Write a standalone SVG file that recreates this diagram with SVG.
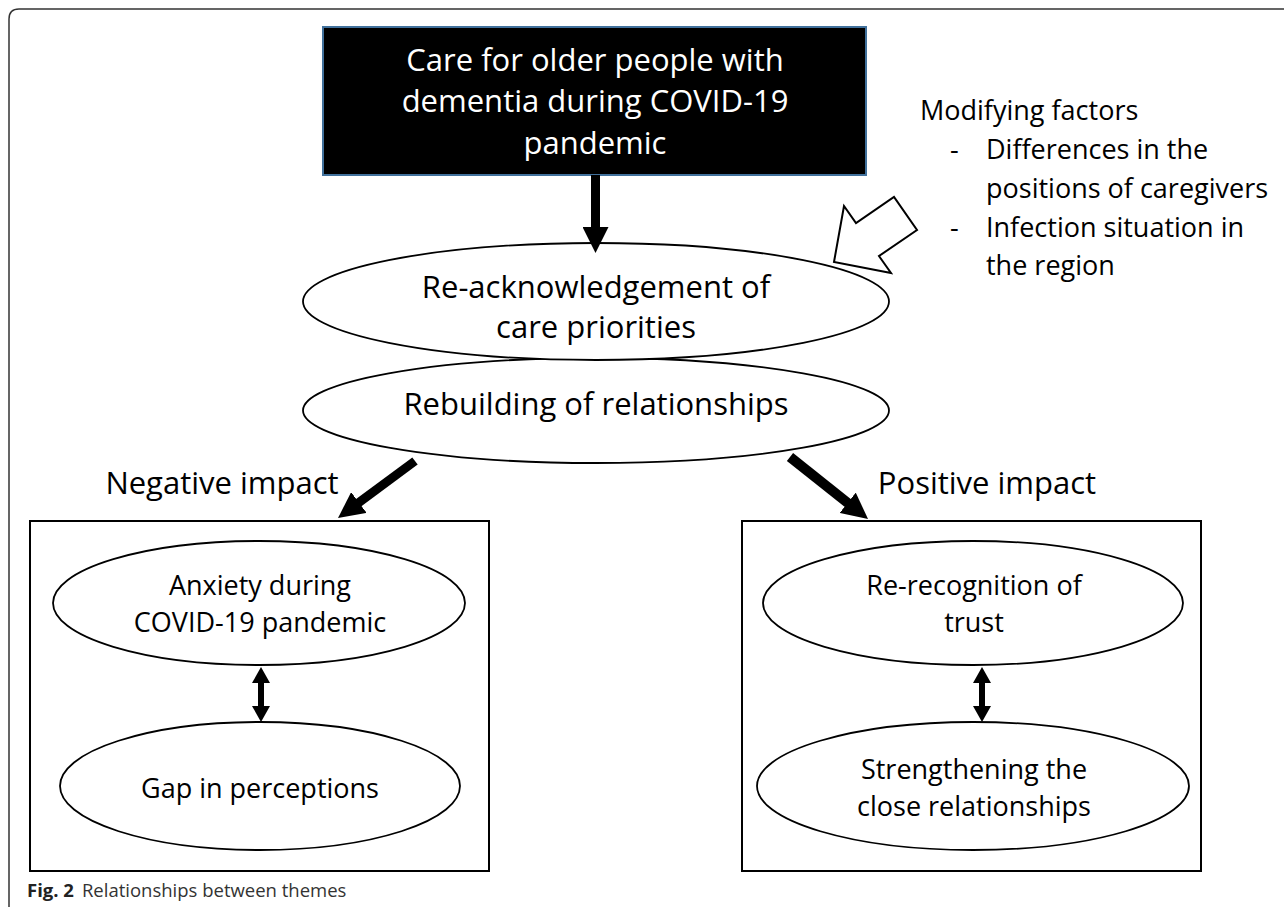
<svg xmlns="http://www.w3.org/2000/svg" width="1284" height="910" viewBox="0 0 1284 910">
<defs>
<style>
.t{font-family:"Open Sans","Liberation Sans",sans-serif;fill:#000;text-anchor:middle}
.s{text-anchor:start}
.w{fill:#fff}
.el{fill:#fff;stroke:#000;stroke-width:1.8}
.bx{fill:none;stroke:#000;stroke-width:2}
.sh{stroke:#000;fill:none}
</style>
<marker id="ah" markerUnits="userSpaceOnUse" markerWidth="26" markerHeight="26" viewBox="0 0 26 26" refX="4" refY="13" orient="auto">
<path d="M0,0 L26,13 L0,26 z" fill="#000"/>
</marker>
<marker id="dh" markerUnits="userSpaceOnUse" markerWidth="16" markerHeight="18" viewBox="0 0 16 18" refX="3" refY="9" orient="auto-start-reverse">
<path d="M0,0 L16,9 L0,18 z" fill="#000"/>
</marker>
</defs>
<rect width="1284" height="910" fill="#fff"/>
<path d="M9,907 V19 Q9,9 19,9 H1284" fill="none" stroke="#333" stroke-width="1.5"/>

<g id="care-box">
<rect x="323" y="27" width="543" height="148" fill="#000" stroke="#41719c" stroke-width="2"/>
<text class="t w" x="595" y="71" font-size="31">Care for older people with</text>
<text class="t w" x="595" y="112" font-size="31">dementia during COVID-19</text>
<text class="t w" x="595" y="154" font-size="31">pandemic</text>
</g>

<g id="modifying-factors">
<text class="t s" x="920" y="120" font-size="27">Modifying factors</text>
<text class="t s" x="950" y="159" font-size="27">-</text>
<text class="t s" x="986" y="159" font-size="27">Differences in the</text>
<text class="t s" x="986" y="198" font-size="27">positions of caregivers</text>
<text class="t s" x="950" y="237" font-size="27">-</text>
<text class="t s" x="986" y="237" font-size="27">Infection situation in</text>
<text class="t s" x="986" y="275" font-size="27">the region</text>
</g>

<g id="rebuilding">
<ellipse class="el" cx="596" cy="410.5" rx="293" ry="52.5"/>
<text class="t" x="596" y="415" font-size="31">Rebuilding of relationships</text>
</g>

<g id="re-acknowledgement">
<ellipse class="el" cx="596" cy="301.5" rx="293" ry="58.5"/>
<text class="t" x="596" y="298" font-size="31">Re-acknowledgement of</text>
<text class="t" x="596" y="338" font-size="31">care priorities</text>
</g>

<g id="modifier-arrow">
<polygon points="834,262 844,206 856,223 894,197 917,230 879,256 891,273" fill="#fff" stroke="#000" stroke-width="2" stroke-linejoin="miter"/>
</g>

<g id="negative-label">
<text class="t" x="222" y="494" font-size="31">Negative impact</text>
</g>
<g id="positive-label">
<text class="t" x="987" y="494" font-size="31">Positive impact</text>
</g>

<g id="negative-box">
<rect class="bx" x="30" y="521" width="459" height="350"/>
</g>
<g id="anxiety">
<ellipse class="el" cx="259" cy="603" rx="206" ry="62"/>
<text class="t" x="260" y="595" font-size="27">Anxiety during</text>
<text class="t" x="260" y="632" font-size="27">COVID-19 pandemic</text>
</g>
<g id="gap">
<ellipse class="el" cx="260" cy="786" rx="200" ry="64"/>
<text class="t" x="260" y="798" font-size="27">Gap in perceptions</text>
</g>

<g id="positive-box">
<rect class="bx" x="742" y="521" width="459" height="350"/>
</g>
<g id="trust">
<ellipse class="el" cx="973" cy="603" rx="210" ry="62"/>
<text class="t" x="974" y="595" font-size="27">Re-recognition of</text>
<text class="t" x="974" y="632" font-size="27">trust</text>
</g>
<g id="strengthening">
<ellipse class="el" cx="973" cy="786" rx="216" ry="64"/>
<text class="t" x="974" y="779" font-size="27">Strengthening the</text>
<text class="t" x="974" y="816" font-size="27">close relationships</text>
</g>

<g id="connectors">
<line class="sh" x1="595.5" y1="175" x2="595.5" y2="231" stroke-width="9" marker-end="url(#ah)"/>
<line class="sh" x1="415" y1="461" x2="355.7" y2="504.9" stroke-width="9" marker-end="url(#ah)"/>
<line class="sh" x1="790" y1="457" x2="850.8" y2="505.3" stroke-width="10" marker-end="url(#ah)"/>
<line class="sh" x1="261" y1="680" x2="261" y2="709" stroke-width="6" marker-start="url(#dh)" marker-end="url(#dh)"/>
<line class="sh" x1="982" y1="680" x2="982" y2="709" stroke-width="6" marker-start="url(#dh)" marker-end="url(#dh)"/>
</g>

<g id="caption">
<text x="27" y="897" font-family="'Open Sans','Liberation Sans',sans-serif" font-size="18.5" fill="#222"><tspan font-weight="bold">Fig. 2</tspan><tspan dx="8" fill="#333">Relationships between themes</tspan></text>
</g>
</svg>
